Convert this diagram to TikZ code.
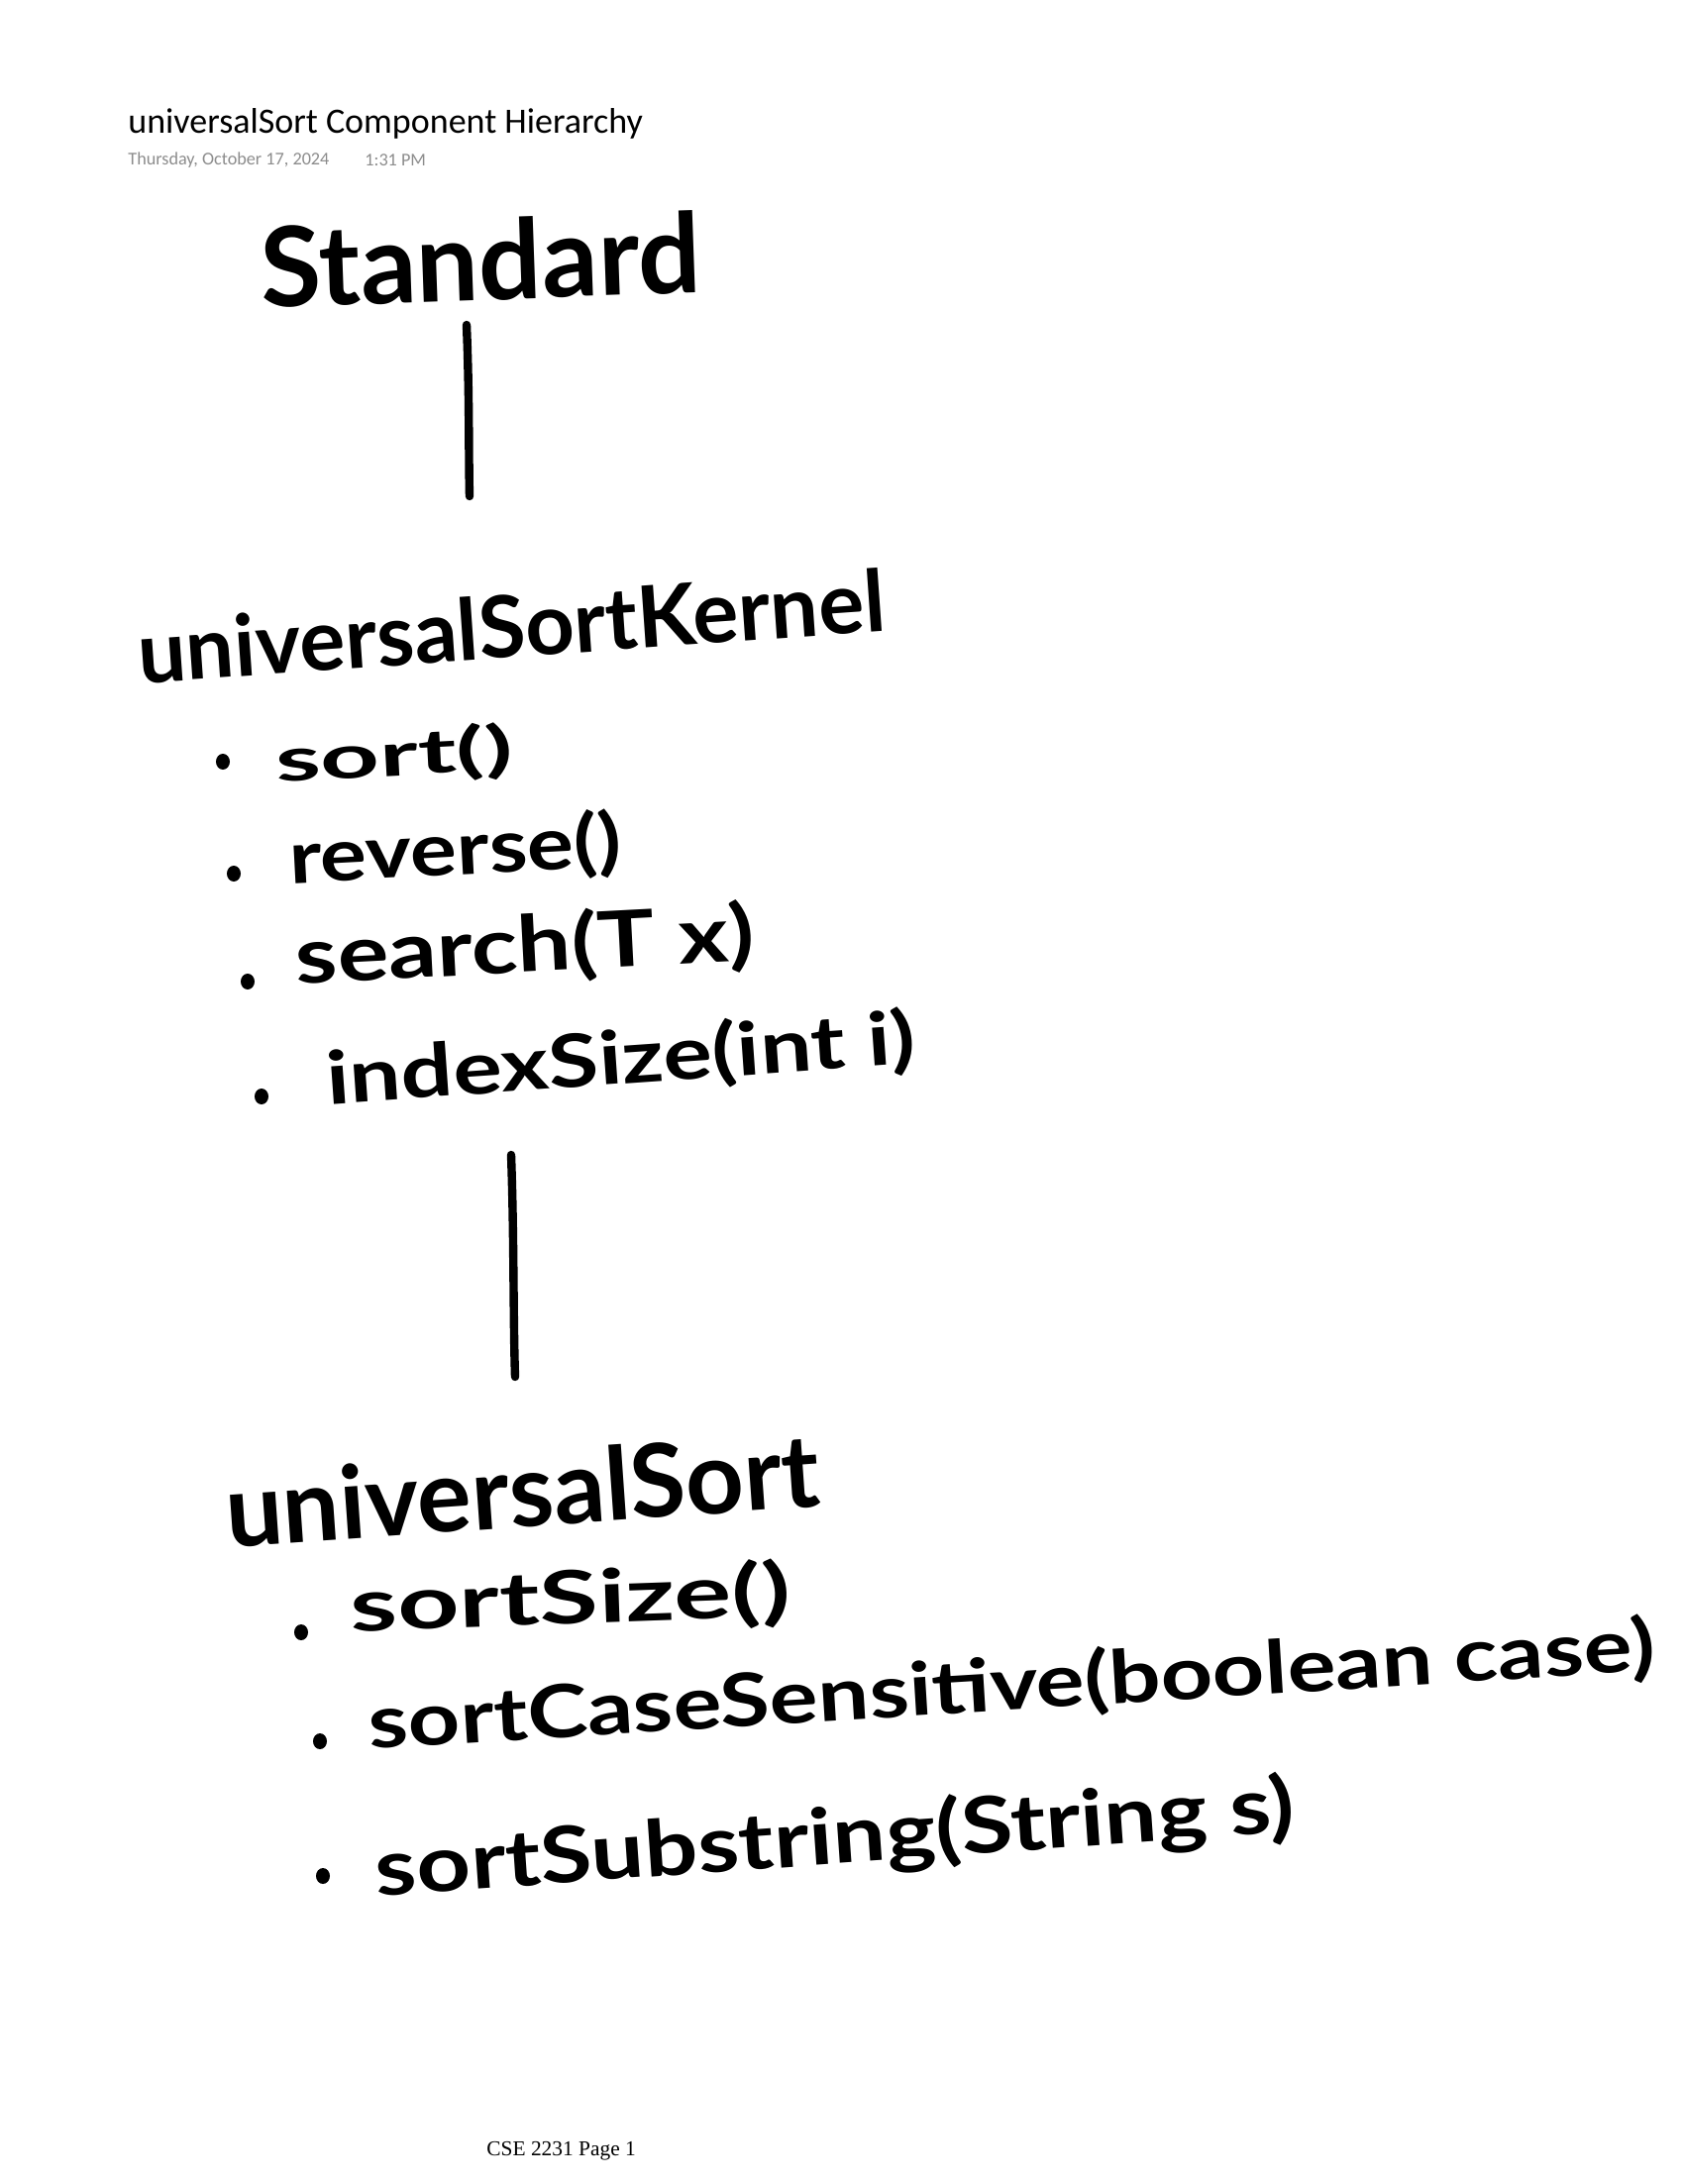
\documentclass[tikz,border=0pt]{standalone}
\usepackage{fontspec}
\setmainfont{Liberation Serif}
\newfontfamily\calib{Carlito}
\newfontfamily\hand{Lato}
\usepackage{graphicx}
\definecolor{dategray}{RGB}{140,140,140}
\newcommand{\hw}[2]{\resizebox{#1}{!}{\hand\bfseries #2}}
\newcommand{\hwb}[3]{\resizebox*{#1}{#2}{\hand\bfseries #3}}
\tikzset{
  hwnode/.style={inner sep=0pt, anchor=center},
  bulletdot/.style={ellipse, fill=black, inner sep=0pt, minimum width=7pt, minimum height=8pt},
  penline/.style={line width=4.2pt, line cap=round}
}
\usetikzlibrary{shapes.geometric}
\begin{document}
\begin{tikzpicture}[x=0.5pt,y=-0.5pt]
\useasboundingbox (0,0) rectangle (1700,2205);
% header
\node[anchor=west, inner sep=0pt, font=\calib\fontsize{18}{20}\selectfont] (title) at (129,125) {universalSort Component Hierarchy};
\node[anchor=west, inner sep=0pt, text=dategray, font=\calib\fontsize{9.1}{11}\selectfont] (date) at (129,162) {Thursday, October 17, 2024};
\node[anchor=west, inner sep=0pt, text=dategray, font=\calib\fontsize{9.1}{11}\selectfont] (time) at (368,162) {1:31 PM};
% handwritten parts
\node[hwnode, rotate=2] (std) at (485,262) {\hw{222pt}{Standard}};
\node[hwnode, rotate=4] (kern) at (516,632) {\hw{378pt}{universalSortKernel}};
\node[hwnode, rotate=3] (m1) at (398,764) {\hwb{120pt}{29pt}{sort()}};
\node[hwnode, rotate=3] (m2) at (460,860) {\hwb{168pt}{35pt}{reverse()}};
\node[hwnode, rotate=3] (m3) at (530,957) {\hwb{232pt}{37pt}{search(T x)}};
\node[hwnode, rotate=4] (m4) at (627,1071) {\hwb{298pt}{35pt}{indexSize(int i)}};
\node[hwnode, rotate=4] (us) at (527,1504) {\hw{300pt}{universalSort}};
\node[hwnode, rotate=2] (s1) at (576,1616) {\hwb{222pt}{35pt}{sortSize()}};
\node[hwnode, rotate=3.5] (s2) at (1021,1703) {\hwb{650pt}{35pt}{sortCaseSensitive(boolean case)}};
\node[hwnode, rotate=4] (s3) at (843,1858) {\hwb{465pt}{38pt}{sortSubstring(String s)}};
% bullets
\node[bulletdot] (b1) at (225,769) {};
\node[bulletdot] (b2) at (236,882) {};
\node[bulletdot] (b3) at (250,991) {};
\node[bulletdot] (b4) at (264,1107) {};
\node[bulletdot] (b5) at (304,1648) {};
\node[bulletdot] (b6) at (323,1758) {};
\node[bulletdot] (b7) at (326,1894) {};
% connectors
\coordinate (l1a) at (471,328);
\coordinate (l1b) at (474,501);
\coordinate (l2a) at (516,1166);
\coordinate (l2b) at (520,1390);
\draw[penline] (l1a) .. controls (474,400) and (473,460) .. (l1b);
\draw[penline] (l2a) .. controls (519,1250) and (518,1330) .. (l2b);
% footer
\node[anchor=west, inner sep=0pt, font=\fontsize{10.7}{12}\selectfont] (foot) at (491,2172) {CSE 2231 Page 1};
\end{tikzpicture}
\end{document}
